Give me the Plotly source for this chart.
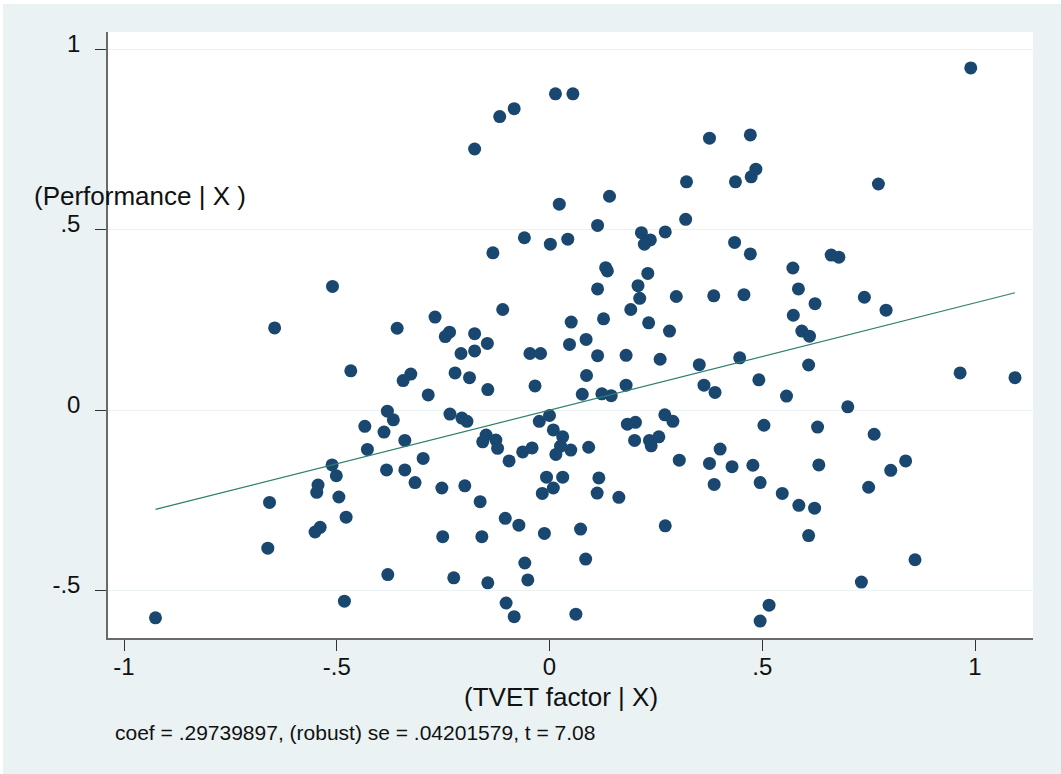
import plotly.graph_objects as go
import numpy as np

# Added-variable plot data: residualised TVET factor (x) and Performance (y)
tvet_x = [
    0.990, 0.014, 0.055, -0.083, -0.117, -0.176, 0.376, 0.472, 0.485, 0.474,
    0.322, 0.437, 0.773, 0.141, 0.023, 0.113, 0.320, -0.059, 0.002, 0.043,
    -0.133, 0.216, 0.237, 0.223, 0.272, 0.435, 0.472, 0.662, 0.680, 0.572,
    0.132, 0.136, 0.231, 0.113, 0.208, 0.212, 0.298, 0.386, 0.457, 0.585,
    0.624, 0.740, 0.791, -0.110, 0.191, -0.510, -0.646, -0.358, -0.269, -0.235,
    -0.245, -0.176, -0.146, -0.208, -0.176, 0.051, 0.127, 0.233, 0.282, 0.047,
    0.086, -0.046, -0.021, 0.113, 0.180, 0.260, 0.352, 0.447, 0.573, 0.593,
    0.611, 0.609, 0.492, 0.557, 0.965, 1.094, -0.467, -0.326, -0.344, -0.285,
    -0.381, -0.367, -0.434, -0.389, -0.340, -0.428, -0.297, -0.511, -0.501, -0.383,
    -0.340, -0.316, -0.544, -0.547, -0.495, -0.658, -0.478, -0.539, -0.551, -0.662,
    -0.380, -0.482, -0.926, -0.222, -0.188, -0.145, -0.034, 0.087, 0.180, 0.363,
    0.389, 0.077, 0.123, 0.145, -0.234, -0.206, -0.194, -0.024, -0.000, 0.009,
    0.031, -0.149, -0.157, -0.126, -0.122, 0.026, 0.050, 0.015, -0.063, -0.041,
    0.092, 0.183, 0.202, 0.200, 0.235, 0.239, 0.257, 0.271, 0.290, 0.305,
    0.401, 0.376, 0.429, 0.387, -0.095, -0.007, 0.031, 0.009, -0.017, 0.116,
    0.112, 0.163, -0.253, -0.199, -0.163, -0.104, -0.072, -0.012, 0.073, 0.272,
    -0.251, -0.159, -0.058, 0.085, -0.225, -0.145, -0.051, -0.102, -0.083, 0.062,
    0.504, 0.630, 0.763, 0.701, 0.478, 0.633, 0.495, 0.547, 0.586, 0.623,
    0.609, 0.750, 0.802, 0.837, 0.859, 0.733, 0.516, 0.495,
]
perf_y = [
    0.949, 0.877, 0.877, 0.836, 0.814, 0.724, 0.754, 0.763, 0.668, 0.647,
    0.633, 0.633, 0.627, 0.593, 0.571, 0.512, 0.529, 0.478, 0.460, 0.474,
    0.436, 0.492, 0.472, 0.460, 0.494, 0.465, 0.433, 0.430, 0.424, 0.394,
    0.395, 0.386, 0.379, 0.336, 0.345, 0.310, 0.315, 0.317, 0.320, 0.336,
    0.295, 0.313, 0.277, 0.279, 0.279, 0.343, 0.228, 0.227, 0.258, 0.216,
    0.204, 0.212, 0.185, 0.157, 0.164, 0.244, 0.253, 0.242, 0.219, 0.182,
    0.196, 0.157, 0.157, 0.151, 0.152, 0.141, 0.126, 0.145, 0.263, 0.219,
    0.205, 0.125, 0.084, 0.039, 0.103, 0.090, 0.109, 0.100, 0.082, 0.042,
    -0.003, -0.027, -0.045, -0.061, -0.084, -0.109, -0.134, -0.152, -0.182, -0.166,
    -0.166, -0.201, -0.208, -0.228, -0.241, -0.256, -0.297, -0.325, -0.338, -0.383,
    -0.456, -0.530, -0.576, 0.103, 0.090, 0.057, 0.067, 0.096, 0.069, 0.069,
    0.049, 0.044, 0.045, 0.040, -0.011, -0.022, -0.031, -0.031, -0.015, -0.055,
    -0.074, -0.069, -0.088, -0.083, -0.106, -0.100, -0.111, -0.123, -0.116, -0.105,
    -0.103, -0.039, -0.034, -0.084, -0.084, -0.099, -0.074, -0.013, -0.031, -0.139,
    -0.108, -0.148, -0.157, -0.206, -0.141, -0.186, -0.186, -0.216, -0.231, -0.188,
    -0.230, -0.242, -0.216, -0.210, -0.254, -0.300, -0.319, -0.342, -0.330, -0.321,
    -0.351, -0.351, -0.424, -0.413, -0.465, -0.479, -0.471, -0.535, -0.573, -0.566,
    -0.042, -0.047, -0.067, 0.009, -0.153, -0.152, -0.201, -0.231, -0.264, -0.272,
    -0.348, -0.214, -0.167, -0.141, -0.415, -0.477, -0.541, -0.585,
]

coef = 0.29739897
robust_se = 0.04201579
t_stat = 7.08

x_ticks = [-1, -0.5, 0, 0.5, 1]
x_tick_labels = ["-1", "-.5", "0", ".5", "1"]
y_ticks = [-0.5, 0, 0.5, 1]
y_tick_labels = ["-.5", "0", ".5", "1"]

y_title = "(Performance | X )"
x_title = "(TVET factor | X)"
note_text = f"coef = {coef:.8f}".replace("0.", ".", 1) + \
    f", (robust) se = {robust_se:.8f}".replace("0.", ".", 1) + f", t = {t_stat:.2f}"

FONT = "Liberation Sans, Arial, Helvetica, sans-serif"
NAVY = "#1a476f"
LINE = "#2f7f6d"
BG = "#eaf2f3"

fit_x = np.array([min(tvet_x), max(tvet_x)])
fit_y = coef * fit_x

fig = go.Figure()
fig.add_trace(go.Scatter(
    x=tvet_x, y=perf_y, mode="markers",
    marker=dict(color=NAVY, size=13, line=dict(width=0)),
    showlegend=False, hoverinfo="x+y",
))
fig.add_trace(go.Scatter(
    x=fit_x, y=fit_y, mode="lines",
    line=dict(color=LINE, width=1.2),
    showlegend=False, hoverinfo="skip",
))

fig.update_layout(
    width=1061, height=774,
    margin=dict(l=108, r=28, t=32, b=136, pad=0),
    paper_bgcolor=BG, plot_bgcolor="white",
    font=dict(family=FONT, color="#111111", size=24),
    showlegend=False,
)
fig.update_xaxes(
    range=[-1.0376, 1.1363], tickmode="array", tickvals=x_ticks, ticktext=x_tick_labels,
    showgrid=False, zeroline=False, showline=True, linecolor="#6a6a6a", linewidth=1.5,
    ticks="outside", ticklen=11, tickwidth=1, tickcolor="#333333",
    tickfont=dict(size=24, family=FONT, color="#111111"), ticklabelstandoff=-5,
)
fig.update_yaxes(
    range=[-0.632, 1.0485], tickmode="array", tickvals=y_ticks, ticktext=y_tick_labels,
    showgrid=True, gridcolor=BG, gridwidth=1.2, zeroline=False,
    showline=True, linecolor="#6a6a6a", linewidth=1.5,
    ticks="outside", ticklen=11, tickwidth=1, tickcolor="#333333",
    tickfont=dict(size=24, family=FONT, color="#111111"), ticklabelstandoff=10,
    ticklabelshift=-6,
)

# plot area spans pixels x 108..1033, y 32..638
def px_x(p):
    return (p - 108) / 925.0

def px_y(p):
    return (638 - p) / 606.0

fig.add_annotation(text=y_title, xref="paper", yref="paper", x=px_x(140), y=px_y(196),
                   xanchor="center", yanchor="middle", showarrow=False,
                   font=dict(size=26, family=FONT, color="#111111"))
fig.add_annotation(text=x_title, xref="paper", yref="paper", x=px_x(561), y=px_y(697),
                   xanchor="center", yanchor="middle", showarrow=False,
                   font=dict(size=26, family=FONT, color="#111111"))
fig.add_annotation(text=note_text, xref="paper", yref="paper", x=px_x(113), y=px_y(732),
                   xanchor="left", yanchor="middle", showarrow=False,
                   font=dict(size=21, family=FONT, color="#111111"))

# thin white frame at top and left edges of the image
fig.add_shape(type="rect", xref="paper", yref="paper", x0=px_x(0), x1=px_x(1061),
              y0=px_y(4), y1=px_y(0), fillcolor="white", line=dict(width=0), layer="below")
fig.add_shape(type="rect", xref="paper", yref="paper", x0=px_x(0), x1=px_x(3),
              y0=px_y(774), y1=px_y(0), fillcolor="white", line=dict(width=0), layer="below")

fig.write_html("out.html")
